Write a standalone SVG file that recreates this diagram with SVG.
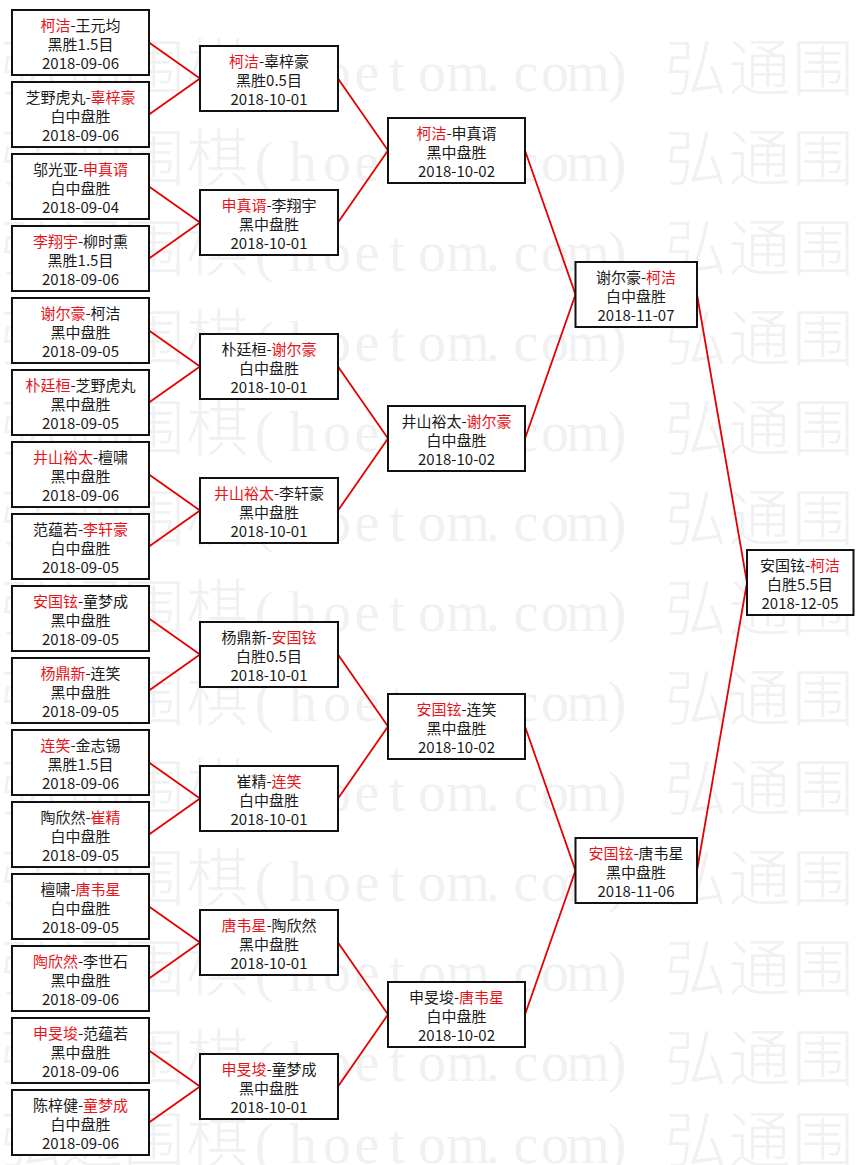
<svg xmlns="http://www.w3.org/2000/svg" width="864" height="1165" viewBox="0 0 864 1165">
<style>
.bg{fill:#ffffff}
.wm{fill:#f1f1f1}
.wc{font-family:"Noto Sans CJK SC","Noto Sans CJK JP",sans-serif;font-size:62px;font-weight:300}
.wl{font-family:"Liberation Serif",serif;font-size:56px}
.box{fill:#ffffff;stroke:#111111;stroke-width:2}
.t{font-family:"Noto Sans CJK SC","Noto Sans CJK JP",sans-serif;font-size:15px;fill:#1a1a1a;text-anchor:middle}
.r{fill:#e8141a}
.link{fill:none;stroke:#e60000;stroke-width:1.8}
</style>
<rect class="bg" x="0" y="0" width="864" height="1165"/>
<g id="watermark" class="wm" text-anchor="middle">
<text y="91"><tspan class="wc" x="31 92 154 217.5">弘通围棋</tspan><tspan class="wl" x="264 303 337 367 397 432 468 493 526 555 588 617">(hoetom.com)</tspan><tspan class="wc" x="696 759.5 823">弘通围</tspan></text>
<text y="181"><tspan class="wc" x="31 92 154 217.5">弘通围棋</tspan><tspan class="wl" x="264 303 337 367 397 432 468 493 526 555 588 617">(hoetom.com)</tspan><tspan class="wc" x="696 759.5 823">弘通围</tspan></text>
<text y="271"><tspan class="wc" x="31 92 154 217.5">弘通围棋</tspan><tspan class="wl" x="264 303 337 367 397 432 468 493 526 555 588 617">(hoetom.com)</tspan><tspan class="wc" x="696 759.5 823">弘通围</tspan></text>
<text y="361"><tspan class="wc" x="31 92 154 217.5">弘通围棋</tspan><tspan class="wl" x="264 303 337 367 397 432 468 493 526 555 588 617">(hoetom.com)</tspan><tspan class="wc" x="696 759.5 823">弘通围</tspan></text>
<text y="451"><tspan class="wc" x="31 92 154 217.5">弘通围棋</tspan><tspan class="wl" x="264 303 337 367 397 432 468 493 526 555 588 617">(hoetom.com)</tspan><tspan class="wc" x="696 759.5 823">弘通围</tspan></text>
<text y="541"><tspan class="wc" x="31 92 154 217.5">弘通围棋</tspan><tspan class="wl" x="264 303 337 367 397 432 468 493 526 555 588 617">(hoetom.com)</tspan><tspan class="wc" x="696 759.5 823">弘通围</tspan></text>
<text y="631"><tspan class="wc" x="31 92 154 217.5">弘通围棋</tspan><tspan class="wl" x="264 303 337 367 397 432 468 493 526 555 588 617">(hoetom.com)</tspan><tspan class="wc" x="696 759.5 823">弘通围</tspan></text>
<text y="721"><tspan class="wc" x="31 92 154 217.5">弘通围棋</tspan><tspan class="wl" x="264 303 337 367 397 432 468 493 526 555 588 617">(hoetom.com)</tspan><tspan class="wc" x="696 759.5 823">弘通围</tspan></text>
<text y="811"><tspan class="wc" x="31 92 154 217.5">弘通围棋</tspan><tspan class="wl" x="264 303 337 367 397 432 468 493 526 555 588 617">(hoetom.com)</tspan><tspan class="wc" x="696 759.5 823">弘通围</tspan></text>
<text y="901"><tspan class="wc" x="31 92 154 217.5">弘通围棋</tspan><tspan class="wl" x="264 303 337 367 397 432 468 493 526 555 588 617">(hoetom.com)</tspan><tspan class="wc" x="696 759.5 823">弘通围</tspan></text>
<text y="991"><tspan class="wc" x="31 92 154 217.5">弘通围棋</tspan><tspan class="wl" x="264 303 337 367 397 432 468 493 526 555 588 617">(hoetom.com)</tspan><tspan class="wc" x="696 759.5 823">弘通围</tspan></text>
<text y="1081"><tspan class="wc" x="31 92 154 217.5">弘通围棋</tspan><tspan class="wl" x="264 303 337 367 397 432 468 493 526 555 588 617">(hoetom.com)</tspan><tspan class="wc" x="696 759.5 823">弘通围</tspan></text>
<text y="1163"><tspan class="wc" x="31 92 154 217.5">弘通围棋</tspan><tspan class="wl" x="264 303 337 367 397 432 468 493 526 555 588 617">(hoetom.com)</tspan><tspan class="wc" x="696 759.5 823">弘通围</tspan></text>
</g>
<g id="connectors" class="link">
<path d="M149 42.5L200 78.5L149 114.5"/>
<path d="M149 186.5L200 222.5L149 258.5"/>
<path d="M149 330.5L200 366.5L149 402.5"/>
<path d="M149 474.5L200 510.5L149 546.5"/>
<path d="M149 618.5L200 654.5L149 690.5"/>
<path d="M149 762.5L200 798.5L149 834.5"/>
<path d="M149 906.5L200 942.5L149 978.5"/>
<path d="M149 1050.5L200 1086.5L149 1122.5"/>
<path d="M338 78.5L388 150.5L338 222.5"/>
<path d="M338 366.5L388 438.5L338 510.5"/>
<path d="M338 654.5L388 726.5L338 798.5"/>
<path d="M338 942.5L388 1014.5L338 1086.5"/>
<path d="M525 150.5L575.5 294.5L525 438.5"/>
<path d="M525 726.5L575.5 870.5L525 1014.5"/>
<path d="M697 294.5L747 582.5L697 870.5"/>
</g>
<g id="r1-1"><rect class="box" x="12" y="10" width="137" height="65"/><text class="t" x="80.5" y="30.5"><tspan class="r">柯洁</tspan>-王元均</text><text class="t" x="80.5" y="50">黑胜1.5目</text><text class="t" x="80.5" y="69">2018-09-06</text></g>
<g id="r1-2"><rect class="box" x="12" y="82" width="137" height="65"/><text class="t" x="80.5" y="102.5">芝野虎丸-<tspan class="r">辜梓豪</tspan></text><text class="t" x="80.5" y="122">白中盘胜</text><text class="t" x="80.5" y="141">2018-09-06</text></g>
<g id="r1-3"><rect class="box" x="12" y="154" width="137" height="65"/><text class="t" x="80.5" y="174.5">邬光亚-<tspan class="r">申真谞</tspan></text><text class="t" x="80.5" y="194">白中盘胜</text><text class="t" x="80.5" y="213">2018-09-04</text></g>
<g id="r1-4"><rect class="box" x="12" y="226" width="137" height="65"/><text class="t" x="80.5" y="246.5"><tspan class="r">李翔宇</tspan>-柳时熏</text><text class="t" x="80.5" y="266">黑胜1.5目</text><text class="t" x="80.5" y="285">2018-09-06</text></g>
<g id="r1-5"><rect class="box" x="12" y="298" width="137" height="65"/><text class="t" x="80.5" y="318.5"><tspan class="r">谢尔豪</tspan>-柯洁</text><text class="t" x="80.5" y="338">黑中盘胜</text><text class="t" x="80.5" y="357">2018-09-05</text></g>
<g id="r1-6"><rect class="box" x="12" y="370" width="137" height="65"/><text class="t" x="80.5" y="390.5"><tspan class="r">朴廷桓</tspan>-芝野虎丸</text><text class="t" x="80.5" y="410">黑中盘胜</text><text class="t" x="80.5" y="429">2018-09-05</text></g>
<g id="r1-7"><rect class="box" x="12" y="442" width="137" height="65"/><text class="t" x="80.5" y="462.5"><tspan class="r">井山裕太</tspan>-檀啸</text><text class="t" x="80.5" y="482">黑中盘胜</text><text class="t" x="80.5" y="501">2018-09-06</text></g>
<g id="r1-8"><rect class="box" x="12" y="514" width="137" height="65"/><text class="t" x="80.5" y="534.5">范蕴若-<tspan class="r">李轩豪</tspan></text><text class="t" x="80.5" y="554">白中盘胜</text><text class="t" x="80.5" y="573">2018-09-05</text></g>
<g id="r1-9"><rect class="box" x="12" y="586" width="137" height="65"/><text class="t" x="80.5" y="606.5"><tspan class="r">安国铉</tspan>-童梦成</text><text class="t" x="80.5" y="626">黑中盘胜</text><text class="t" x="80.5" y="645">2018-09-05</text></g>
<g id="r1-10"><rect class="box" x="12" y="658" width="137" height="65"/><text class="t" x="80.5" y="678.5"><tspan class="r">杨鼎新</tspan>-连笑</text><text class="t" x="80.5" y="698">黑中盘胜</text><text class="t" x="80.5" y="717">2018-09-05</text></g>
<g id="r1-11"><rect class="box" x="12" y="730" width="137" height="65"/><text class="t" x="80.5" y="750.5"><tspan class="r">连笑</tspan>-金志锡</text><text class="t" x="80.5" y="770">黑胜1.5目</text><text class="t" x="80.5" y="789">2018-09-06</text></g>
<g id="r1-12"><rect class="box" x="12" y="802" width="137" height="65"/><text class="t" x="80.5" y="822.5">陶欣然-<tspan class="r">崔精</tspan></text><text class="t" x="80.5" y="842">白中盘胜</text><text class="t" x="80.5" y="861">2018-09-05</text></g>
<g id="r1-13"><rect class="box" x="12" y="874" width="137" height="65"/><text class="t" x="80.5" y="894.5">檀啸-<tspan class="r">唐韦星</tspan></text><text class="t" x="80.5" y="914">白中盘胜</text><text class="t" x="80.5" y="933">2018-09-05</text></g>
<g id="r1-14"><rect class="box" x="12" y="946" width="137" height="65"/><text class="t" x="80.5" y="966.5"><tspan class="r">陶欣然</tspan>-李世石</text><text class="t" x="80.5" y="986">黑中盘胜</text><text class="t" x="80.5" y="1005">2018-09-06</text></g>
<g id="r1-15"><rect class="box" x="12" y="1018" width="137" height="65"/><text class="t" x="80.5" y="1038.5"><tspan class="r">申旻埈</tspan>-范蕴若</text><text class="t" x="80.5" y="1058">黑中盘胜</text><text class="t" x="80.5" y="1077">2018-09-06</text></g>
<g id="r1-16"><rect class="box" x="12" y="1090" width="137" height="65"/><text class="t" x="80.5" y="1110.5">陈梓健-<tspan class="r">童梦成</tspan></text><text class="t" x="80.5" y="1130">白中盘胜</text><text class="t" x="80.5" y="1149">2018-09-06</text></g>
<g id="r2-1"><rect class="box" x="200" y="46" width="138" height="65"/><text class="t" x="269" y="66.5"><tspan class="r">柯洁</tspan>-辜梓豪</text><text class="t" x="269" y="86">黑胜0.5目</text><text class="t" x="269" y="105">2018-10-01</text></g>
<g id="r2-2"><rect class="box" x="200" y="190" width="138" height="65"/><text class="t" x="269" y="210.5"><tspan class="r">申真谞</tspan>-李翔宇</text><text class="t" x="269" y="230">黑中盘胜</text><text class="t" x="269" y="249">2018-10-01</text></g>
<g id="r2-3"><rect class="box" x="200" y="334" width="138" height="65"/><text class="t" x="269" y="354.5">朴廷桓-<tspan class="r">谢尔豪</tspan></text><text class="t" x="269" y="374">白中盘胜</text><text class="t" x="269" y="393">2018-10-01</text></g>
<g id="r2-4"><rect class="box" x="200" y="478" width="138" height="65"/><text class="t" x="269" y="498.5"><tspan class="r">井山裕太</tspan>-李轩豪</text><text class="t" x="269" y="518">黑中盘胜</text><text class="t" x="269" y="537">2018-10-01</text></g>
<g id="r2-5"><rect class="box" x="200" y="622" width="138" height="65"/><text class="t" x="269" y="642.5">杨鼎新-<tspan class="r">安国铉</tspan></text><text class="t" x="269" y="662">白胜0.5目</text><text class="t" x="269" y="681">2018-10-01</text></g>
<g id="r2-6"><rect class="box" x="200" y="766" width="138" height="65"/><text class="t" x="269" y="786.5">崔精-<tspan class="r">连笑</tspan></text><text class="t" x="269" y="806">白中盘胜</text><text class="t" x="269" y="825">2018-10-01</text></g>
<g id="r2-7"><rect class="box" x="200" y="910" width="138" height="65"/><text class="t" x="269" y="930.5"><tspan class="r">唐韦星</tspan>-陶欣然</text><text class="t" x="269" y="950">黑中盘胜</text><text class="t" x="269" y="969">2018-10-01</text></g>
<g id="r2-8"><rect class="box" x="200" y="1054" width="138" height="65"/><text class="t" x="269" y="1074.5"><tspan class="r">申旻埈</tspan>-童梦成</text><text class="t" x="269" y="1094">黑中盘胜</text><text class="t" x="269" y="1113">2018-10-01</text></g>
<g id="r3-1"><rect class="box" x="388" y="118" width="137" height="65"/><text class="t" x="456.5" y="138.5"><tspan class="r">柯洁</tspan>-申真谞</text><text class="t" x="456.5" y="158">黑中盘胜</text><text class="t" x="456.5" y="177">2018-10-02</text></g>
<g id="r3-2"><rect class="box" x="388" y="406" width="137" height="65"/><text class="t" x="456.5" y="426.5">井山裕太-<tspan class="r">谢尔豪</tspan></text><text class="t" x="456.5" y="446">白中盘胜</text><text class="t" x="456.5" y="465">2018-10-02</text></g>
<g id="r3-3"><rect class="box" x="388" y="694" width="137" height="65"/><text class="t" x="456.5" y="714.5"><tspan class="r">安国铉</tspan>-连笑</text><text class="t" x="456.5" y="734">黑中盘胜</text><text class="t" x="456.5" y="753">2018-10-02</text></g>
<g id="r3-4"><rect class="box" x="388" y="982" width="137" height="65"/><text class="t" x="456.5" y="1002.5">申旻埈-<tspan class="r">唐韦星</tspan></text><text class="t" x="456.5" y="1022">白中盘胜</text><text class="t" x="456.5" y="1041">2018-10-02</text></g>
<g id="r4-1"><rect class="box" x="575.5" y="262" width="121.5" height="65"/><text class="t" x="636" y="282.5">谢尔豪-<tspan class="r">柯洁</tspan></text><text class="t" x="636" y="302">白中盘胜</text><text class="t" x="636" y="321">2018-11-07</text></g>
<g id="r4-2"><rect class="box" x="575.5" y="838" width="121.5" height="65"/><text class="t" x="636" y="858.5"><tspan class="r">安国铉</tspan>-唐韦星</text><text class="t" x="636" y="878">黑中盘胜</text><text class="t" x="636" y="897">2018-11-06</text></g>
<g id="final"><rect class="box" x="747" y="550" width="106.5" height="65"/><text class="t" x="800" y="570.5">安国铉-<tspan class="r">柯洁</tspan></text><text class="t" x="800" y="590">白胜5.5目</text><text class="t" x="800" y="609">2018-12-05</text></g>
</svg>
